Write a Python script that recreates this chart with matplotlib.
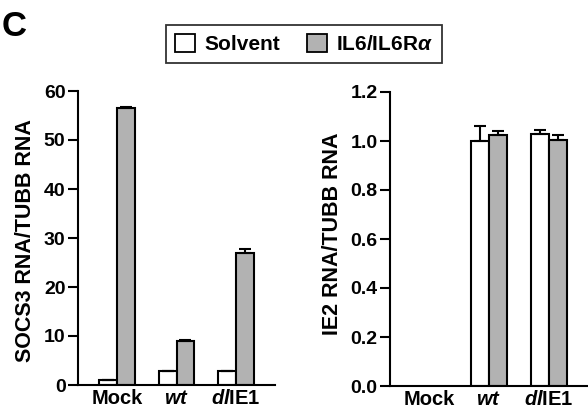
import numpy as np
import matplotlib
matplotlib.use("Agg")
import matplotlib.pyplot as plt
from matplotlib.patches import Patch

plt.rcParams["font.family"] = ["Liberation Sans", "DejaVu Sans"]
plt.rcParams["font.weight"] = "bold"
plt.rcParams["mathtext.fontset"] = "custom"
plt.rcParams["mathtext.it"] = "Liberation Sans:italic:bold"
plt.rcParams["mathtext.rm"] = "Liberation Sans:bold"
plt.rcParams["mathtext.bf"] = "Liberation Sans:bold"

# -------- Data --------
groups = ["Mock", "wt", "dlE1"]
group_labels = ["Mock", r"$\mathit{wt}$", r"$\mathit{dl}$IE1"]

socs3_solvent = [1.0, 2.8, 2.8]
socs3_il6 = [56.5, 9.0, 27.0]
socs3_solvent_err = [0.1, 0.1, 0.1]
socs3_il6_err = [0.3, 0.2, 0.7]

ie2_solvent = [np.nan, 1.0, 1.03]
ie2_il6 = [np.nan, 1.025, 1.005]
ie2_solvent_err = [0.0, 0.06, 0.015]
ie2_il6_err = [0.0, 0.015, 0.02]

solvent_color = "white"
il6_color = "#b2b2b2"

fig = plt.figure(figsize=(5.88, 4.11), dpi=100)

# axes boxes placed in pixels from the reference
ax1 = fig.add_axes([78 / 588, 26 / 411, 197 / 588, 294 / 411])
ax2 = fig.add_axes([390 / 588, 25 / 411, 198 / 588, 294 / 411])

x = np.arange(len(groups))
w = 0.3


def draw(ax, solv, il6, solv_err, il6_err, ylim, ticks, fmt):
    err_kw = dict(ecolor="black", elinewidth=1.5, capsize=4.5, capthick=1.5)
    ax.bar(x - w / 2, solv, w, color=solvent_color, edgecolor="black", linewidth=1.5,
           yerr=[np.zeros(3), solv_err], error_kw=err_kw, zorder=2)
    ax.bar(x + w / 2, il6, w, color=il6_color, edgecolor="black", linewidth=1.5,
           yerr=[np.zeros(3), il6_err], error_kw=err_kw, zorder=2)
    ax.set_xlim(-0.66, 2.66)
    ax.set_ylim(*ylim)
    ax.set_yticks(ticks)
    ax.set_yticklabels([fmt.format(t) for t in ticks], fontsize=14, fontweight="bold")
    ax.set_xticks(x)
    ax.set_xticklabels(group_labels, fontsize=14.5, fontweight="bold")
    ax.tick_params(axis="x", length=0, pad=3)
    ax.tick_params(axis="y", length=7, width=1.5, direction="out", pad=2)
    for s in ["top", "right"]:
        ax.spines[s].set_visible(False)
    for s in ["left", "bottom"]:
        ax.spines[s].set_linewidth(1.5)


draw(ax1, socs3_solvent, socs3_il6, socs3_solvent_err, socs3_il6_err,
     (0, 60), [0, 10, 20, 30, 40, 50, 60], "{:.0f}")
draw(ax2, ie2_solvent, ie2_il6, ie2_solvent_err, ie2_il6_err,
     (0, 1.2), [0.0, 0.2, 0.4, 0.6, 0.8, 1.0, 1.2], "{:.1f}")

# y labels
fig.text(26 / 588, 1 - 241 / 411, "SOCS3 RNA/TUBB RNA", rotation=90, fontsize=15.5,
         fontweight="bold", ha="center", va="center")
fig.text(333 / 588, 1 - 234 / 411, "IE2 RNA/TUBB RNA", rotation=90, fontsize=15.5,
         fontweight="bold", ha="center", va="center")

# panel letter
fig.text(0.003, 0.975, "C", fontsize=25, fontweight="bold", va="top", ha="left")

# legend
handles = [Patch(facecolor=solvent_color, edgecolor="black", linewidth=1.3, label="Solvent"),
           Patch(facecolor=il6_color, edgecolor="black", linewidth=1.3, label=r"IL6/IL6R$\alpha$")]
leg = fig.legend(handles=handles, loc="center", bbox_to_anchor=(304 / 588, 1 - 44 / 411),
                 ncol=2, fancybox=False, frameon=True, edgecolor="black",
                 handlelength=0.95, handleheight=0.95, handletextpad=0.45, columnspacing=1.3,
                 borderpad=0.45, borderaxespad=0, prop={"size": 15, "weight": "bold"})
leg.get_frame().set_linewidth(1.3)

fig.savefig("out.png", dpi=100)
